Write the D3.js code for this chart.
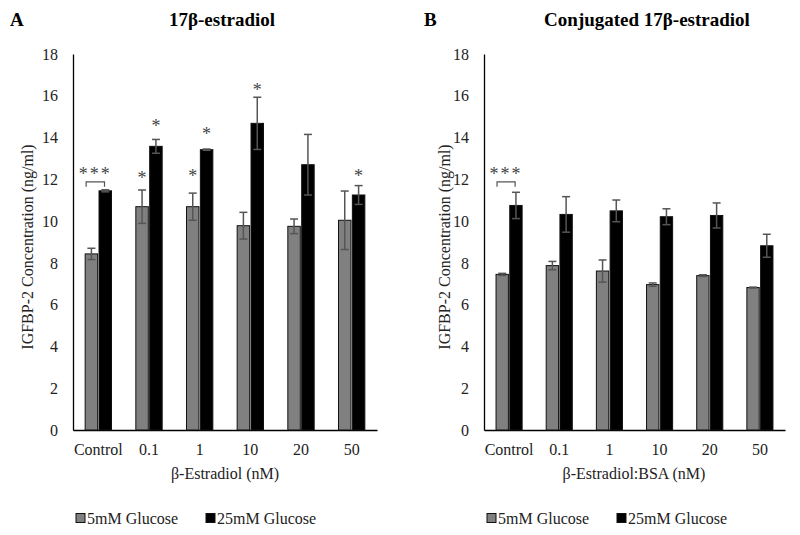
<!DOCTYPE html>
<html><head><meta charset="utf-8">
<script src="https://cdn.jsdelivr.net/npm/d3@7"></script>
<style>body{margin:0;background:#fff}svg{display:block}text{font-family:"Liberation Serif","Times New Roman",serif}</style>
</head><body>
<svg id="chart" width="800" height="535"></svg>
<script>
const categories = ["Control", "0.1", "1", "10", "20", "50"];
const seriesNames = ["5mM Glucose", "25mM Glucose"];
const yTicks = [0, 2, 4, 6, 8, 10, 12, 14, 16, 18];

// Panel A: 17β-estradiol
const aLow = [8.43, 10.69, 10.69, 9.78, 9.75, 10.04];
const aLowErr = [0.27, 0.8, 0.65, 0.64, 0.35, 1.4];
const aHigh = [11.45, 13.58, 13.42, 14.68, 12.70, 11.25];
const aHighErr = [0.05, 0.33, 0.03, 1.25, 1.45, 0.45];
const aStars = [
  {cat: "0.1", s: 0, y: 12.2, t: "*"}, {cat: "0.1", s: 1, y: 14.7, t: "*"},
  {cat: "1", s: 0, y: 12.3, t: "*"}, {cat: "1", s: 1, y: 14.3, t: "*"},
  {cat: "10", s: 1, y: 16.4, t: "*"}, {cat: "50", s: 1, y: 12.3, t: "*"}
];

// Panel B: Conjugated 17β-estradiol
const bLow = [7.45, 7.87, 7.61, 6.96, 7.39, 6.82];
const bLowErr = [0.05, 0.2, 0.53, 0.08, 0.04, 0.02];
const bHigh = [10.75, 10.32, 10.49, 10.21, 10.27, 8.82];
const bHighErr = [0.63, 0.85, 0.52, 0.38, 0.6, 0.55];
const bStars = [];

const svg = d3.select("#chart");
const FONT = '"Liberation Serif","Times New Roman",serif';
const colors = ["#808080", "#000000"];

function panel(o) {
  const g = svg.append("g");
  const x = d3.scaleBand().domain(categories).range([o.x0, o.x1]).paddingInner(0.48).paddingOuter(0.24);
  const xs = d3.scaleBand().domain([0, 1]).range([0, x.bandwidth()]).paddingInner(0.1);
  const y = d3.scaleLinear().domain([0, 18]).range([430, 54]);

  const ya = g.append("g").attr("transform", `translate(${o.x0},0)`)
    .call(d3.axisLeft(y).tickValues(yTicks).tickSize(0).tickPadding(15));
  ya.select(".domain").attr("stroke", "#000").attr("stroke-width", 1.3);
  ya.selectAll("text").attr("font-family", FONT).attr("font-size", 16).attr("fill", "#222");
  const xa = g.append("g").attr("transform", `translate(0,430)`)
    .call(d3.axisBottom(x).tickSize(0).tickPadding(14));
  xa.select(".domain").attr("stroke", "#000").attr("stroke-width", 1.3);
  xa.selectAll("text").attr("font-family", FONT).attr("font-size", 16).attr("fill", "#222");

  const rows = [];
  categories.forEach((c, i) => {
    rows.push({c, s: 0, v: o.low[i], e: o.lowErr[i]});
    rows.push({c, s: 1, v: o.high[i], e: o.highErr[i]});
  });
  g.selectAll("rect.bar").data(rows).join("rect").attr("class", "bar")
    .attr("x", d => x(d.c) + xs(d.s)).attr("width", xs.bandwidth())
    .attr("y", d => y(d.v)).attr("height", d => y(0) - y(d.v))
    .attr("fill", d => colors[d.s]).attr("stroke", "#111").attr("stroke-width", 1);

  const cap = 4;
  const eb = g.selectAll("g.err").data(rows).join("g").attr("class", "err")
    .attr("stroke", "#555").attr("stroke-width", 1.5);
  eb.append("line").attr("x1", d => x(d.c) + xs(d.s) + xs.bandwidth() / 2)
    .attr("x2", d => x(d.c) + xs(d.s) + xs.bandwidth() / 2)
    .attr("y1", d => y(d.v - d.e)).attr("y2", d => y(d.v + d.e));
  [1, -1].forEach(sg => {
    eb.append("line").attr("x1", d => x(d.c) + xs(d.s) + xs.bandwidth() / 2 - cap)
      .attr("x2", d => x(d.c) + xs(d.s) + xs.bandwidth() / 2 + cap)
      .attr("y1", d => y(d.v + sg * d.e)).attr("y2", d => y(d.v + sg * d.e));
  });

  g.selectAll("text.star").data(o.stars).join("text").attr("class", "star")
    .attr("x", d => x(d.cat) + xs(d.s) + xs.bandwidth() / 2)
    .attr("y", d => y(d.y) + 9).attr("text-anchor", "middle")
    .attr("font-size", 18).attr("fill", "#444").text(d => d.t);

  const cx0 = x("Control") + 1, cx1 = x("Control") + x.bandwidth() - 7;
  const by = y(11.88);
  g.append("path").attr("d", `M${cx0},${by + 5}V${by}H${cx1}V${by + 5}`)
    .attr("fill", "none").attr("stroke", "#555").attr("stroke-width", 1.2);
  g.append("text").attr("x", (cx0 + cx1) / 2).attr("y", y(12.4) + 9).attr("text-anchor", "middle")
    .attr("font-size", 18).attr("fill", "#444").attr("letter-spacing", 2).text("***");

  g.append("text").attr("x", o.letterX).attr("y", 26).attr("font-size", 19).attr("font-weight", "bold").text(o.letter);
  g.append("text").attr("x", o.titleX).attr("y", 26).attr("text-anchor", "middle")
    .attr("font-size", 19).attr("font-weight", "bold").text(o.title);
  g.append("text").attr("transform", `translate(${o.ytX},247) rotate(-90)`).attr("text-anchor", "middle")
    .attr("font-size", 16).attr("fill", "#222").text("IGFBP-2 Concentration (ng/ml)");
  g.append("text").attr("x", o.xtX).attr("y", 479).attr("text-anchor", "middle")
    .attr("font-size", 16).attr("fill", "#222").text(o.xTitle);

  const lg = g.append("g").attr("transform", `translate(${o.legX},518)`);
  [0, 1].forEach(i => {
    const off = i * o.legGap;
    lg.append("rect").attr("x", off).attr("y", -4.5).attr("width", 9).attr("height", 9)
      .attr("fill", colors[i]).attr("stroke", "#111").attr("stroke-width", 1);
    lg.append("text").attr("x", off + 11).attr("y", 5.5).attr("font-size", 16).attr("fill", "#222").text(seriesNames[i]);
  });
}

panel({x0: 73, x1: 377, low: aLow, lowErr: aLowErr, high: aHigh, highErr: aHighErr, stars: aStars,
  letter: "A", letterX: 10, title: "17β-estradiol", titleX: 222, ytX: 33, xtX: 225,
  xTitle: "β-Estradiol (nM)", legX: 76, legGap: 130});
panel({x0: 484, x1: 785, low: bLow, lowErr: bLowErr, high: bHigh, highErr: bHighErr, stars: bStars,
  letter: "B", letterX: 424, title: "Conjugated 17β-estradiol", titleX: 647, ytX: 450, xtX: 634,
  xTitle: "β-Estradiol:BSA (nM)", legX: 487, legGap: 130});
</script>
</body></html>
